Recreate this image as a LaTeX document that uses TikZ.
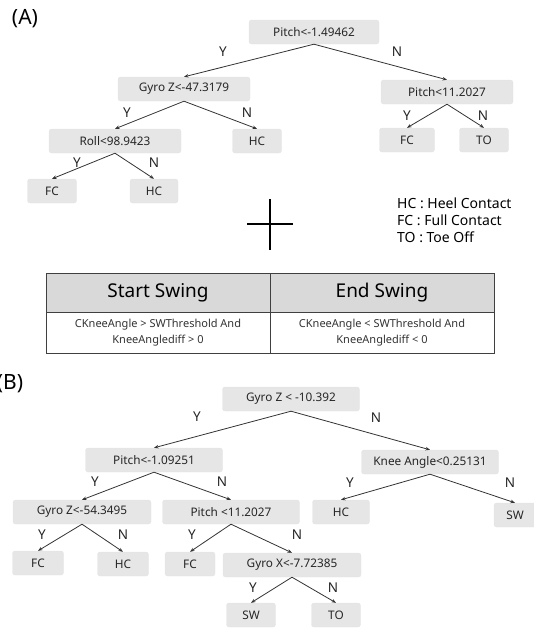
\documentclass[tikz,border=0pt]{standalone}
\usepackage{fontspec}
\setmainfont{Noto Sans}
\usetikzlibrary{arrows.meta,shadows}
\definecolor{boxgray}{HTML}{E6E6E6}
\definecolor{headgray}{HTML}{D9D9D9}
\definecolor{edgecol}{HTML}{333333}
\definecolor{tline}{HTML}{404040}
\tikzset{
  tbox/.style={fill=boxgray, draw=black!10, rounded corners=2.5pt, minimum height=24pt, inner sep=0pt,
     font=\fontsize{11.8}{13}\selectfont, text=black!85},
  edge/.style={draw=edgecol, line width=0.8pt, -{Stealth[length=4.5pt,width=3.5pt]}},
  yn/.style={font=\fontsize{13.5}{15}\selectfont, text=black!85},
  panel/.style={font=\fontsize{21}{24}\selectfont},
  legend/.style={font=\fontsize{14}{16}\selectfont, anchor=west, inner sep=0pt},
  hcell/.style={draw=tline, line width=1pt, fill=headgray, minimum width=224pt, minimum height=39pt, inner sep=0pt, font=\fontsize{19}{22}\selectfont},
  bcell/.style={draw=tline, line width=1pt, fill=white, minimum width=224pt, minimum height=41pt, inner sep=0pt, align=center, font=\fontsize{11}{16}\selectfont, text=black!80},
}
\begin{document}
\begin{tikzpicture}[x=1pt,y=-1pt]
\useasboundingbox (0,0) rectangle (534,630);
% ---------- (A) ----------
\node[panel] (lA) at (25,19) {(A)};
\node[tbox, minimum width=130pt] (a0) at (314,32) {Pitch<-1.49462};
\node[tbox, minimum width=132pt] (a1) at (184,89) {Gyro Z<-47.3179};
\node[tbox, minimum width=132pt] (a2) at (447,92) {Pitch<11.2027};
\node[tbox, minimum width=132pt] (a3) at (115,141) {Roll<98.9423};
\node[tbox, minimum width=49pt] (a4) at (257,141) {HC};
\node[tbox, minimum width=55pt] (a5) at (407,140) {FC};
\node[tbox, minimum width=49pt] (a6) at (484,140) {TO};
\node[tbox, minimum width=49pt] (a7) at (52,191) {FC};
\node[tbox, minimum width=48pt] (a8) at (154,191) {HC};
\draw[edge] (a0.south) -- (a1.north);
\draw[edge] (a0.south) -- (a2.north);
\draw[edge] (a1.south) -- (a3.north);
\draw[edge] (a1.south) -- (a4.north);
\draw[edge] (a2.south) -- (a5.north);
\draw[edge] (a2.south) -- (a6.north);
\draw[edge] (a3.south) -- (a7.north);
\draw[edge] (a3.south) -- (a8.north);
\node[yn] (ay0) at (223,52) {Y};
\node[yn] (an0) at (397,52) {N};
\node[yn] (ay1) at (127,113) {Y};
\node[yn] (an1) at (247,113) {N};
\node[yn] (ay2) at (407,116) {Y};
\node[yn] (an2) at (483,116) {N};
\node[yn] (ay3) at (77,163) {Y};
\node[yn] (an3) at (154,163) {N};
% legend
\node[legend] (l1) at (397,203) {HC : Heel Contact};
\node[legend] (l2) at (397,220) {FC : Full Contact};
\node[legend] (l3) at (397,237) {TO : Toe Off};
% plus sign
\coordinate (pt) at (270,199);
\coordinate (pb) at (270,250);
\coordinate (pl) at (247,224);
\coordinate (pr) at (293,224);
\draw[line width=1.6pt] (pt) -- (pb);
\draw[line width=1.6pt] (pl) -- (pr);
% table
\node[hcell] (h1) at (158,292.5) {Start Swing};
\node[hcell] (h2) at (382,292.5) {End Swing};
\node[bcell] (b1) at (158,332.5) {CKneeAngle > SWThreshold And\\KneeAnglediff > 0};
\node[bcell] (b2) at (382,332.5) {CKneeAngle < SWThreshold And\\KneeAnglediff < 0};
% ---------- (B) ----------
\node[panel] (lB) at (10,384) {(B)};
\node[tbox, minimum width=137pt] (b0) at (291,399) {Gyro Z < -10.392};
\node[tbox, minimum width=137pt] (bp) at (154,460) {Pitch<-1.09251};
\node[tbox, minimum width=137pt] (bk) at (430,462) {Knee Angle<0.25131};
\node[tbox, minimum width=138pt] (bg) at (82,512) {Gyro Z<-54.3495};
\node[tbox, minimum width=137pt] (bq) at (231,512) {Pitch <11.2027};
\node[tbox, minimum width=57pt] (bh) at (341,512) {HC};
\node[tbox, minimum width=42pt] (bs) at (515,515) {SW};
\node[tbox, minimum width=51pt] (bf1) at (38,563) {FC};
\node[tbox, minimum width=51pt] (bh2) at (123,564) {HC};
\node[tbox, minimum width=50pt] (bf2) at (190,564) {FC};
\node[tbox, minimum width=138pt] (bx) at (292,565) {Gyro X<-7.72385};
\node[tbox, minimum width=49pt] (bs2) at (251,615) {SW};
\node[tbox, minimum width=49pt] (bt) at (336,615) {TO};
\draw[edge] (b0.south) -- (bp.north);
\draw[edge] (b0.south) -- (bk.north);
\draw[edge] (bp.south) -- (bg.north);
\draw[edge] (bp.south) -- (bq.north);
\draw[edge] (bk.south) -- (bh.north);
\draw[edge] (bk.south) -- (bs.north);
\draw[edge] (bg.south) -- (bf1.north);
\draw[edge] (bg.south) -- (bh2.north);
\draw[edge] (bq.south) -- (bf2.north);
\draw[edge] (bq.south) -- (bx.north);
\draw[edge] (bx.south) -- (bs2.north);
\draw[edge] (bx.south) -- (bt.north);
\node[yn] (by0) at (197,417) {Y};
\node[yn] (bn0) at (376,418) {N};
\node[yn] (by1) at (95,482) {Y};
\node[yn] (bn1) at (222,482) {N};
\node[yn] (by2) at (350,483) {Y};
\node[yn] (bn2) at (510,483) {N};
\node[yn] (by3) at (42,535) {Y};
\node[yn] (bn3) at (123,535) {N};
\node[yn] (by4) at (192,535) {Y};
\node[yn] (bn4) at (297,535) {N};
\node[yn] (by5) at (253,588) {Y};
\node[yn] (bn5) at (333,588) {N};
\end{tikzpicture}
\end{document}
